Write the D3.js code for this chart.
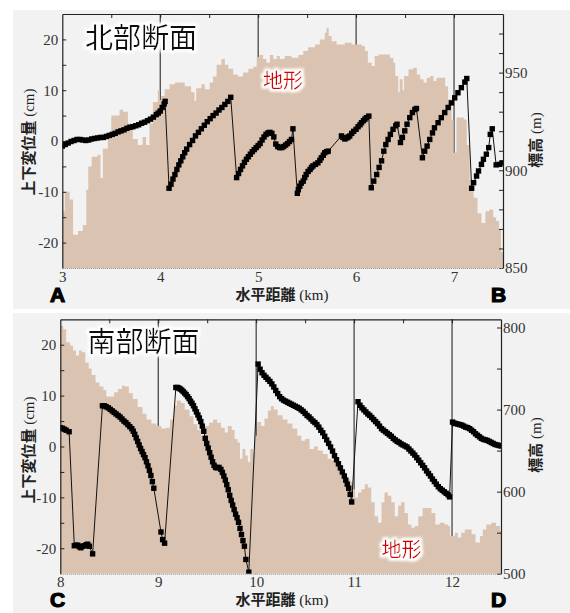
<!DOCTYPE html>
<html>
<head>
<meta charset="utf-8">
<script src="https://cdn.jsdelivr.net/npm/d3@7"></script>
<style>
body { margin: 0; background: #fff; }
svg { display: block; }
.tick text { font-family: "Liberation Serif", "Times New Roman", serif; font-size: 15px; fill: #333; }
.cjk { font-family: "Noto Sans CJK JP", "Noto Sans CJK SC", sans-serif; }
.serif { font-family: "Liberation Serif", "Times New Roman", serif; font-weight: normal; }
</style>
</head>
<body>
<svg id="chart" width="570" height="613"></svg>
<script>

// ---- north profile (A-B) ----
var northXTicks = [3, 4, 5, 6, 7];
var northXMinor = [3.5, 4, 4.5, 5, 5.5, 6, 6.5, 7];
var northElevTicks = [850, 860, 870, 880, 890, 900, 910, 920, 930, 940, 950, 960, 970];
var northElevLabels = [850, 900, 950];

// terrain elevation (m), [km, m]
var northTerrain = [
    [3.00, 879], [3.025, 889], [3.075, 885], [3.11, 867], [3.16, 869], [3.21, 872], [3.245, 890],
    [3.265, 902], [3.30, 907], [3.36, 908], [3.39, 896], [3.415, 911], [3.465, 919], [3.50, 928],
    [3.585, 931], [3.62, 930], [3.67, 924], [3.72, 916], [3.77, 913], [3.82, 917], [3.855, 913],
    [3.89, 924], [3.925, 935], [3.975, 941], [3.995, 936], [4.01, 938], [4.045, 941.5], [4.095, 944],
    [4.15, 945], [4.25, 943], [4.315, 940], [4.35, 935.5], [4.367, 942], [4.42, 944], [4.455, 941.5],
    [4.505, 945], [4.54, 948], [4.575, 954], [4.625, 957], [4.66, 954], [4.695, 952], [4.745, 949],
    [4.795, 948], [4.845, 950], [4.90, 952], [4.95, 953], [4.985, 958], [5.015, 959], [5.05, 957],
    [5.085, 955], [5.12, 959], [5.155, 957], [5.19, 958.5], [5.22, 957], [5.27, 958.5], [5.34, 957.6],
    [5.41, 959], [5.46, 961], [5.51, 963], [5.58, 964.4], [5.63, 967], [5.68, 970.4], [5.698, 973],
    [5.72, 968.7], [5.75, 966], [5.80, 964.4], [5.885, 965.3], [5.955, 964.4], [6.06, 963.6],
    [6.09, 961], [6.12, 955], [6.16, 953.4], [6.19, 958.5], [6.23, 959.3], [6.30, 959.3], [6.345, 957.6],
    [6.38, 955], [6.40, 948.3], [6.43, 940], [6.445, 946.6], [6.475, 941], [6.49, 948.3], [6.535, 951.7],
    [6.585, 952.5], [6.62, 949], [6.655, 946.6], [6.69, 945], [6.72, 947.4], [6.755, 948.3], [6.79, 945.7],
    [6.82, 947.4], [6.875, 947.4], [6.91, 943], [6.94, 936.4], [6.975, 926], [6.995, 909], [7.025, 927],
    [7.10, 926], [7.13, 913], [7.16, 895], [7.20, 886], [7.24, 878], [7.28, 873], [7.32, 879],
    [7.36, 880], [7.40, 876], [7.43, 874], [7.46, 870], [7.48, 858], [7.50, 858]
];

// vertical displacement (cm), [km, cm]
var northDisp = [
    [3.00, -1.0], [3.03, -0.7], [3.06, -0.4], [3.09, -0.1], [3.12, 0.1], [3.15, 0.3], [3.18, 0.3],
    [3.21, 0.2], [3.24, 0.1], [3.27, 0.2], [3.30, 0.4], [3.33, 0.5], [3.36, 0.6], [3.39, 0.7],
    [3.42, 0.7], [3.45, 0.9], [3.48, 1.1], [3.51, 1.3], [3.54, 1.5], [3.57, 1.8], [3.60, 2.0],
    [3.63, 2.2], [3.66, 2.5], [3.69, 2.7], [3.72, 2.8], [3.75, 3.0], [3.78, 3.2], [3.81, 3.5],
    [3.84, 3.7], [3.87, 4.0], [3.90, 4.3], [3.93, 4.7], [3.96, 5.2], [3.98, 5.5], [4.00, 5.9],
    [4.02, 6.6], [4.04, 7.3], [4.05, 7.8],
    [4.09, -9.3], [4.11, -8.5], [4.13, -7.5], [4.15, -6.6], [4.17, -5.6], [4.19, -4.7], [4.21, -3.9],
    [4.23, -3.1], [4.25, -2.3], [4.27, -1.6], [4.30, -0.7], [4.33, 0.1], [4.36, 1.0], [4.39, 1.7],
    [4.42, 2.4], [4.45, 3.1], [4.48, 3.8], [4.51, 4.4], [4.54, 5.0], [4.57, 5.5], [4.60, 6.1],
    [4.63, 6.6], [4.66, 7.2], [4.69, 7.8], [4.72, 8.6],
    [4.78, -7.2], [4.80, -6.4], [4.82, -5.6], [4.84, -4.9], [4.86, -4.2], [4.88, -3.6], [4.90, -3.1],
    [4.92, -2.6], [4.94, -2.1], [4.96, -1.7], [4.98, -1.3], [5.00, -0.9], [5.02, -0.5], [5.04, 0.2],
    [5.06, 0.8], [5.08, 1.3], [5.10, 1.6], [5.12, 1.7], [5.14, 1.5], [5.16, 0.8], [5.18, -0.6],
    [5.20, -1.1], [5.22, -1.3], [5.24, -1.3], [5.26, -1.1], [5.28, -0.8], [5.30, -0.5], [5.32, -0.1],
    [5.34, 0.3], [5.355, 2.4],
    [5.40, -10.3], [5.41, -9.6], [5.425, -8.9], [5.44, -8.3], [5.46, -7.9], [5.475, -7.2], [5.49, -6.6],
    [5.51, -6.0], [5.53, -5.6], [5.545, -5.2], [5.56, -4.9], [5.585, -4.6], [5.61, -4.3], [5.63, -3.8],
    [5.645, -3.3], [5.665, -2.8], [5.68, -2.3], [5.70, -2.1], [5.715, -2.0],
    [5.85, 1.0], [5.865, 0.7], [5.885, 0.4], [5.905, 0.6], [5.92, 0.8], [5.935, 1.0], [5.955, 1.5],
    [5.975, 1.9], [6.00, 2.3], [6.02, 2.8], [6.04, 3.2], [6.055, 3.6], [6.075, 4.0], [6.09, 4.3],
    [6.105, 4.6], [6.13, 4.9],
    [6.155, -9.2], [6.18, -7.9], [6.21, -6.6], [6.235, -5.2], [6.26, -3.9], [6.283, -2.0], [6.303, -0.7],
    [6.327, 0.3], [6.35, 1.3], [6.377, 2.3], [6.405, 3.0], [6.418, 3.3],
    [6.453, -0.3], [6.473, 0.7], [6.497, 2.0], [6.52, 3.3], [6.548, 4.6], [6.575, 5.6], [6.60, 6.2], [6.616, 6.4],
    [6.677, -3.3], [6.70, -2.0], [6.725, -1.0], [6.752, 0.3], [6.78, 1.6], [6.80, 2.6], [6.837, 3.6],
    [6.87, 4.6], [6.905, 5.6], [6.94, 6.6], [6.973, 7.5], [7.007, 8.5], [7.04, 9.5], [7.075, 10.5],
    [7.11, 11.6], [7.13, 12.3],
    [7.18, -9.3], [7.20, -8.2], [7.23, -6.9], [7.25, -5.9], [7.28, -4.6], [7.30, -3.6], [7.33, -2.6],
    [7.354, -1.3], [7.37, 1.3], [7.39, 2.4],
    [7.43, -4.7], [7.466, -4.6], [7.49, -4.3]
];

// ---- south profile (C-D) ----
var southXTicks = [8, 9, 10, 11, 12];
var southXMinor = [8.5, 9, 9.5, 10, 10.5, 11, 11.5, 12];
var southElevTicks = [500, 550, 600, 650, 700, 750, 800];
var southElevLabels = [500, 600, 700, 800];

var southTerrain = [
    [8.00, 802], [8.03, 798], [8.06, 782], [8.10, 778], [8.13, 772], [8.16, 766], [8.19, 772],
    [8.22, 770], [8.255, 757], [8.29, 750], [8.32, 742], [8.36, 733], [8.40, 728], [8.44, 724],
    [8.47, 716], [8.51, 716], [8.55, 721], [8.59, 725], [8.63, 729], [8.66, 728], [8.70, 720],
    [8.74, 713], [8.79, 703], [8.84, 695], [8.88, 688], [8.93, 683], [8.98, 680], [9.03, 677],
    [9.08, 678], [9.12, 688], [9.16, 705], [9.19, 711], [9.23, 708], [9.27, 700], [9.32, 692],
    [9.36, 682], [9.40, 675], [9.44, 668], [9.47, 680], [9.52, 684], [9.56, 688], [9.60, 684],
    [9.64, 678], [9.68, 672], [9.71, 680], [9.75, 675], [9.78, 664], [9.81, 660], [9.835, 640],
    [9.86, 652], [9.89, 644], [9.915, 636], [9.94, 652], [9.97, 648], [9.99, 668], [10.01, 685],
    [10.05, 680], [10.085, 689], [10.12, 699], [10.15, 704], [10.18, 700], [10.22, 693], [10.27, 688],
    [10.32, 683], [10.37, 677], [10.42, 668], [10.46, 662], [10.50, 664], [10.545, 652], [10.59, 655],
    [10.63, 650], [10.68, 646], [10.73, 640], [10.77, 638], [10.815, 633], [10.865, 623], [10.915, 615],
    [10.96, 612], [10.99, 603], [11.01, 593], [11.04, 599], [11.075, 603], [11.11, 609], [11.14, 605],
    [11.175, 587], [11.21, 570], [11.245, 562], [11.28, 587], [11.31, 599], [11.345, 595], [11.38, 587],
    [11.415, 570], [11.45, 583], [11.48, 587], [11.515, 574], [11.55, 560], [11.585, 556], [11.62, 558],
    [11.655, 570], [11.70, 580], [11.755, 580], [11.79, 574], [11.83, 560], [11.875, 562], [11.925, 560],
    [11.96, 558], [11.98, 546], [12.03, 550], [12.06, 544], [12.095, 550], [12.13, 554], [12.165, 554],
    [12.20, 548], [12.24, 538], [12.285, 546], [12.315, 554], [12.35, 560], [12.40, 562], [12.45, 558],
    [12.49, 552], [12.50, 552]
];

var southDisp = [
    [8.00, 3.7], [8.02, 3.6], [8.04, 3.4], [8.06, 3.2], [8.09, 2.9],
    [8.143, -19.5], [8.16, -19.4], [8.178, -19.4], [8.195, -19.7], [8.21, -19.9], [8.23, -19.6],
    [8.245, -19.5], [8.265, -19.3], [8.28, -19.2], [8.296, -19.6], [8.33, -21.1],
    [8.43, 8.0], [8.45, 8.0], [8.47, 7.8], [8.49, 7.6], [8.51, 7.3], [8.53, 7.0], [8.55, 6.7],
    [8.57, 6.4], [8.59, 6.1], [8.61, 5.8], [8.63, 5.4], [8.65, 5.0], [8.67, 4.7], [8.69, 4.3],
    [8.71, 3.9], [8.73, 3.5], [8.745, 3.0], [8.76, 2.4], [8.775, 1.7], [8.79, 1.0], [8.805, 0.3],
    [8.82, -0.4], [8.835, -1.0], [8.85, -1.6], [8.865, -2.2], [8.88, -3.0], [8.895, -3.8], [8.91, -4.7],
    [8.925, -5.7], [8.94, -6.9], [8.955, -8.2],
    [9.028, -16.8], [9.045, -18.3], [9.065, -19.0],
    [9.18, 11.6], [9.195, 11.6], [9.21, 11.5], [9.225, 11.3], [9.24, 11.1], [9.255, 10.8], [9.27, 10.5],
    [9.285, 10.2], [9.30, 9.8], [9.315, 9.4], [9.33, 8.9], [9.345, 8.5], [9.36, 8.0], [9.375, 7.4],
    [9.39, 6.8], [9.405, 6.2], [9.42, 5.6], [9.435, 4.9], [9.45, 4.0], [9.465, 3.0], [9.48, 1.6],
    [9.495, 0.6], [9.51, -0.3], [9.525, -1.2], [9.54, -2.1], [9.555, -3.0], [9.57, -3.7], [9.585, -4.1],
    [9.60, -4.2], [9.62, -4.1], [9.64, -4.5], [9.655, -5.1], [9.67, -5.8], [9.685, -6.6], [9.70, -7.5],
    [9.715, -8.5], [9.73, -9.6], [9.745, -10.6], [9.76, -11.5], [9.775, -12.4], [9.79, -13.3],
    [9.805, -14.0], [9.82, -14.9], [9.835, -16.1], [9.85, -17.3], [9.865, -18.5], [9.88, -19.6],
    [9.895, -22.2], [9.925, -24.7],
    [10.02, 16.2], [10.04, 15.2], [10.06, 14.5], [10.08, 14.0], [10.10, 13.6], [10.12, 13.2], [10.14, 12.8],
    [10.16, 12.3], [10.18, 11.7], [10.20, 11.0], [10.22, 10.4], [10.24, 9.8], [10.26, 9.4], [10.28, 9.1],
    [10.30, 8.9], [10.32, 8.7], [10.34, 8.5], [10.36, 8.3], [10.38, 8.1], [10.40, 7.9], [10.42, 7.7],
    [10.44, 7.5], [10.46, 7.2], [10.48, 6.9], [10.50, 6.5], [10.52, 6.1], [10.54, 5.8], [10.56, 5.4],
    [10.58, 5.0], [10.60, 4.7], [10.62, 4.3], [10.64, 3.8], [10.66, 3.2], [10.68, 2.7], [10.70, 2.0],
    [10.72, 1.3], [10.74, 0.6], [10.76, -0.1], [10.78, -0.9], [10.80, -1.8], [10.82, -2.6], [10.84, -3.4],
    [10.86, -4.2], [10.88, -5.0], [10.90, -5.8], [10.915, -6.6], [10.93, -7.4], [10.945, -8.2],
    [10.96, -9.4], [10.975, -10.9],
    [11.04, 8.8], [11.06, 8.1], [11.08, 7.6], [11.10, 7.2], [11.12, 6.8], [11.14, 6.4], [11.16, 6.1],
    [11.18, 5.7], [11.20, 5.3], [11.22, 4.9], [11.24, 4.5], [11.26, 4.0], [11.28, 3.5], [11.30, 3.2],
    [11.32, 2.9], [11.34, 2.6], [11.36, 2.3], [11.38, 2.0], [11.40, 1.6], [11.42, 1.3], [11.44, 1.0],
    [11.46, 0.8], [11.48, 0.5], [11.50, 0.3], [11.52, 0.1], [11.54, -0.1], [11.56, -0.5], [11.58, -0.9],
    [11.60, -1.3], [11.62, -1.7], [11.64, -2.2], [11.66, -2.7], [11.68, -3.2], [11.70, -3.7], [11.72, -4.2],
    [11.74, -4.8], [11.76, -5.3], [11.78, -5.8], [11.80, -6.4], [11.82, -6.9], [11.84, -7.4], [11.86, -7.9],
    [11.88, -8.3], [11.90, -8.6], [11.92, -8.9], [11.94, -9.2], [11.96, -9.5], [11.975, -9.9],
    [12.005, 4.8], [12.02, 4.6], [12.04, 4.5], [12.06, 4.4], [12.08, 4.3], [12.10, 4.2], [12.12, 4.0],
    [12.14, 3.8], [12.16, 3.7], [12.18, 3.5], [12.20, 3.2], [12.22, 2.9], [12.24, 2.5], [12.26, 2.2],
    [12.28, 1.9], [12.30, 1.6], [12.32, 1.4], [12.34, 1.3], [12.36, 1.2], [12.38, 1.0], [12.40, 0.8],
    [12.42, 0.6], [12.44, 0.4], [12.46, 0.3], [12.48, 0.2], [12.50, 0.1]
];

var dispTicks = [-20, -15, -10, -5, 0, 5, 10, 15, 20];

var svg = d3.select('#chart');

// soft white halo behind the in-plot labels
var glow = svg.append('defs').append('filter')
    .attr('id', 'glow')
    .attr('x', '-20%').attr('y', '-30%')
    .attr('width', '140%').attr('height', '160%');
glow.append('feMorphology').attr('in', 'SourceAlpha').attr('operator', 'dilate').attr('radius', 1.5).attr('result', 'd');
glow.append('feGaussianBlur').attr('in', 'd').attr('stdDeviation', 1.6).attr('result', 'b');
glow.append('feFlood').attr('flood-color', '#fff');
glow.append('feComposite').attr('in2', 'b').attr('operator', 'in').attr('result', 'w');
var merge = glow.append('feMerge');
merge.append('feMergeNode').attr('in', 'w');
merge.append('feMergeNode').attr('in', 'w');
merge.append('feMergeNode').attr('in', 'SourceGraphic');

drawPanel({
    id: 'north',
    bgTop: 10, bgHeight: 299,
    left: 62.3, right: 503, top: 14, bottom: 268,
    xDomain: [3, 7.5], elevDomain: [850, 980],
    xTicks: northXTicks, xMinor: northXMinor,
    elevTicks: northElevTicks, elevLabels: northElevLabels,
    terrain: northTerrain, disp: northDisp,
    title: '北部断面', titleX: 85, titleY: 47.5,
    terrLabelX: 263, terrLabelY: 87.5,
    yLabelY: 142, rLabelY: 140, xLabelY: 300,
    letters: ['A', 'B'], letterY: 302
});

drawPanel({
    id: 'south',
    bgTop: 313, bgHeight: 300,
    left: 60.3, right: 501, top: 319.3, bottom: 573.7,
    xDomain: [8, 12.5], elevDomain: [500, 810],
    xTicks: southXTicks, xMinor: southXMinor,
    elevTicks: southElevTicks, elevLabels: southElevLabels,
    terrain: southTerrain, disp: southDisp,
    title: '南部断面', titleX: 87.5, titleY: 351.5,
    terrLabelX: 381.5, terrLabelY: 556.5,
    yLabelY: 450, rLabelY: 445, xLabelY: 605,
    letters: ['C', 'D'], letterY: 607
});


function drawPanel(p) {
    var x = d3.scaleLinear().domain(p.xDomain).range([p.left, p.right]);
    var yDisp = d3.scaleLinear().domain([-25, 25]).range([p.bottom, p.top]);
    var yElev = d3.scaleLinear().domain(p.elevDomain).range([p.bottom, p.top]);

    var g = svg.append('g').attr('class', 'panel-' + p.id);

    g.append('rect')
        .attr('x', 13).attr('y', p.bgTop)
        .attr('width', 557).attr('height', p.bgHeight)
        .attr('fill', '#f2f2f2');

    g.append('clipPath').attr('id', 'clip-' + p.id)
        .append('rect')
        .attr('x', p.left).attr('y', p.top)
        .attr('width', p.right - p.left).attr('height', p.bottom - p.top);

    var plot = g.append('g').attr('clip-path', 'url(#clip-' + p.id + ')');

    //  km gridlines, they sit behind the terrain
    plot.selectAll('.grid')
        .data(p.xTicks.slice(1))
        .enter().append('line')
        .attr('class', 'grid')
        .attr('x1', function(d) { return x(d); })
        .attr('x2', function(d) { return x(d); })
        .attr('y1', p.top).attr('y2', p.bottom)
        .attr('stroke', '#2a2a2a')
        .attr('stroke-width', 1.1);

    var area = d3.area()
        .curve(d3.curveStepAfter)
        .x(function(d) { return x(d[0]); })
        .y0(p.bottom)
        .y1(function(d) { return yElev(d[1]); });

    plot.append('path')
        .datum(p.terrain)
        .attr('d', area)
        .attr('fill', '#dbc3b1');

    // axes
    var left = g.append('g')
        .attr('transform', 'translate(' + p.left + ',0)')
        .call(d3.axisLeft(yDisp).tickValues(dispTicks).tickSize(-4).tickSizeOuter(0).tickPadding(4)
            .tickFormat(function(d) { return d % 10 === 0 ? String(d) : ''; }));

    var right = g.append('g')
        .attr('transform', 'translate(' + p.right + ',0)')
        .call(d3.axisRight(yElev).tickValues(p.elevTicks).tickSize(-4).tickSizeOuter(0).tickPadding(2)
            .tickFormat(function(d) { return p.elevLabels.indexOf(d) >= 0 ? String(d) : ''; }));

    var top = g.append('g')
        .attr('transform', 'translate(0,' + p.top + ')')
        .call(d3.axisTop(x).tickValues(p.xMinor).tickSize(-4).tickSizeOuter(0).tickFormat(''));

    var bottom = g.append('g')
        .attr('transform', 'translate(0,' + p.bottom + ')')
        .call(d3.axisBottom(x).tickValues(p.xTicks).tickSize(0).tickSizeOuter(0).tickPadding(3)
            .tickFormat(d3.format('d')));

    [left, right, top].forEach(function(a) {
        a.select('.domain').attr('stroke', '#222').attr('stroke-width', 1.2);
        a.selectAll('.tick line').attr('stroke', '#222');
    });
    bottom.select('.domain')
        .attr('stroke', '#8a8a8a')
        .attr('stroke-dasharray', '1,1');
    g.selectAll('.tick text').attr('fill', '#333');

    // displacement series
    var line = d3.line()
        .x(function(d) { return x(d[0]); })
        .y(function(d) { return yDisp(d[1]); });

    plot.append('path')
        .datum(p.disp)
        .attr('d', line)
        .attr('fill', 'none')
        .attr('stroke', '#111')
        .attr('stroke-width', 1);

    plot.selectAll('.pt')
        .data(p.disp)
        .enter().append('rect')
        .attr('class', 'pt')
        .attr('x', function(d) { return x(d[0]) - 2.7; })
        .attr('y', function(d) { return yDisp(d[1]) - 2.7; })
        .attr('width', 5.4).attr('height', 5.4)
        .attr('fill', '#000');

    // labels
    g.append('text')
        .attr('class', 'cjk')
        .attr('x', p.titleX).attr('y', p.titleY)
        .attr('font-size', 28)
        .attr('fill', '#111')
        .attr('filter', 'url(#glow)')
        .text(p.title);

    g.append('text')
        .attr('class', 'cjk')
        .attr('x', p.terrLabelX).attr('y', p.terrLabelY)
        .attr('font-size', 20)
        .attr('fill', '#d40000')
        .attr('filter', 'url(#glow)')
        .text('地形');

    var yl = g.append('text')
        .attr('class', 'cjk')
        .attr('transform', 'translate(34,' + p.yLabelY + ') rotate(-90)')
        .attr('text-anchor', 'middle')
        .attr('font-size', 15)
        .attr('font-weight', 'bold')
        .attr('fill', '#222');
    yl.append('tspan').text('上下変位量');
    yl.append('tspan').attr('class', 'serif').attr('font-size', 15).text(' (cm)');

    var rl = g.append('text')
        .attr('class', 'cjk')
        .attr('transform', 'translate(541,' + p.rLabelY + ') rotate(-90)')
        .attr('text-anchor', 'middle')
        .attr('font-size', 15)
        .attr('font-weight', 'bold')
        .attr('fill', '#222');
    rl.append('tspan').text('標高');
    rl.append('tspan').attr('class', 'serif').text(' (m)');

    var xl = g.append('text')
        .attr('class', 'cjk')
        .attr('x', 282).attr('y', p.xLabelY)
        .attr('text-anchor', 'middle')
        .attr('font-size', 15)
        .attr('font-weight', 'bold')
        .attr('fill', '#222');
    xl.append('tspan').text('水平距離');
    xl.append('tspan').attr('class', 'serif').text(' (km)');

    g.selectAll('.letter')
        .data(p.letters)
        .enter().append('text')
        .attr('class', 'letter')
        .attr('x', function(d, i) { return i === 0 ? 50 : 491; })
        .attr('y', p.letterY)
        .attr('font-family', '"Liberation Sans", Arial, sans-serif')
        .attr('font-weight', 'bold')
        .attr('font-size', 21)
        .attr('fill', '#000')
        .attr('stroke', '#000')
        .attr('stroke-width', 1.2)
        .text(function(d) { return d; });
}

</script>
</body>
</html>
